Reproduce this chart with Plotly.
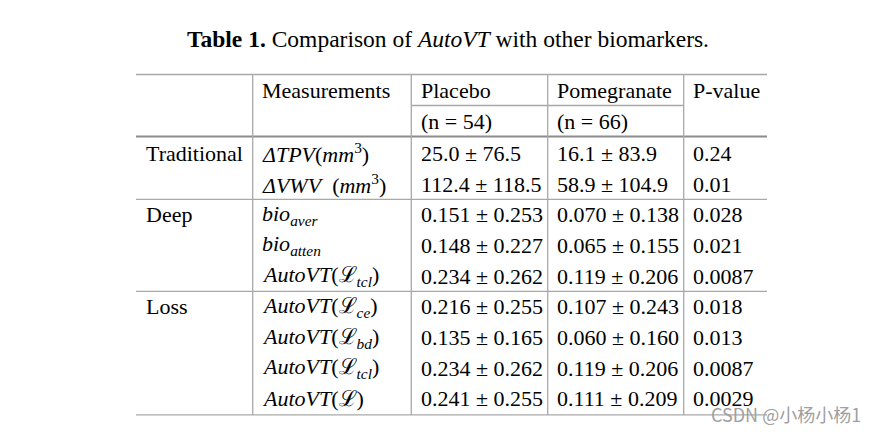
import plotly.graph_objects as go

# ---- table content ----
title_text = "<b>Table 1.</b> Comparison of <i>AutoVT</i> with other biomarkers."
header_top = ["", "Measurements", "Placebo", "Pomegranate", "P-value"]
header_sub = ["", "", "(n = 54)", "(n = 66)", ""]

groups = ["Traditional", "Deep", "Loss"]
group_sizes = [2, 3, 4]

measurements = [
    "<i>ΔTPV</i>(<i>mm</i><sup>3</sup>)",
    "<i>ΔVWV</i>  (<i>mm</i><sup>3</sup>)",
    "<i>bio</i><sub><i>aver</i></sub>",
    "<i>bio</i><sub><i>atten</i></sub>",
    "<i>AutoVT</i>(ℒ<sub><i>tcl</i></sub>)",
    "<i>AutoVT</i>(ℒ<sub><i>ce</i></sub>)",
    "<i>AutoVT</i>(ℒ<sub><i>bd</i></sub>)",
    "<i>AutoVT</i>(ℒ<sub><i>tcl</i></sub>)",
    "<i>AutoVT</i>(ℒ)",
]
placebo_mean = [25.0, 112.4, 0.151, 0.148, 0.234, 0.216, 0.135, 0.234, 0.241]
placebo_sd = [76.5, 118.5, 0.253, 0.227, 0.262, 0.255, 0.165, 0.262, 0.255]
pomegranate_mean = [16.1, 58.9, 0.070, 0.065, 0.119, 0.107, 0.060, 0.119, 0.111]
pomegranate_sd = [83.9, 104.9, 0.138, 0.155, 0.206, 0.243, 0.160, 0.206, 0.209]
decimals = [1, 1, 3, 3, 3, 3, 3, 3, 3]
p_values = ["0.24", "0.01", "0.028", "0.021", "0.0087", "0.018", "0.013", "0.0087", "0.0029"]

watermark = "CSDN @小杨小杨1"

# ---- layout constants (pixel space) ----
W, H = 881, 434
OFF = 8  # page body margin
col_edges = [136, 252.7, 411.3, 547.7, 683.7, 767]
pad = 7.5
header_y = [90, 121]
row_y0, row_pitch = 153.3, 30.7
FONT = "Liberation Serif"
FS = 22
thin = dict(color="#a8a8a8", width=1.3)
thick = dict(color="#8c8c8c", width=2.2)

n_rows = len(measurements)
row_y = [row_y0 + i * row_pitch for i in range(n_rows)]


def fmt(m, s, d):
    return f"{m:.{d}f} ± {s:.{d}f}"


cells = []
for i in range(n_rows):
    cells.append([
        "",
        measurements[i],
        fmt(placebo_mean[i], placebo_sd[i], decimals[i]),
        fmt(pomegranate_mean[i], pomegranate_sd[i], decimals[i]),
        p_values[i],
    ])
# group label goes on the first row of each group
start = 0
group_start = []
for g, n in zip(groups, group_sizes):
    cells[start][0] = g
    group_start.append(start)
    start += n

fig = go.Figure()
fig.add_trace(go.Scatter(x=[OFF, W], y=[OFF, H], mode="markers",
                         marker=dict(opacity=0), hoverinfo="skip", showlegend=False))

annotations = []


def add_text(txt, x, y, **kw):
    if not txt:
        return
    annotations.append(dict(
        text=txt, x=x, y=y, xref="x", yref="y", showarrow=False,
        xanchor=kw.get("xanchor", "left"), yanchor="middle",
        font=kw.get("font", dict(family=FONT, size=FS, color="black")),
    ))


for c in range(5):
    add_text(header_top[c], col_edges[c] + pad, header_y[0])
    add_text(header_sub[c], col_edges[c] + pad, header_y[1])
for i in range(n_rows):
    for c in range(5):
        add_text(cells[i][c], col_edges[c] + pad, row_y[i])

add_text(title_text, 448, 39, xanchor="center",
         font=dict(family=FONT, size=23.5, color="black"))

shapes = []


def hline(y, x0, x1, line):
    shapes.append(dict(type="line", xref="x", yref="y", x0=x0, x1=x1, y0=y, y1=y, line=line))


top_y = header_y[0] - 15.5
bottom_y = row_y[-1] + 16
hline(top_y, col_edges[0], col_edges[-1], thin)
hline((header_y[0] + header_y[1]) / 2, col_edges[2], col_edges[4], thin)
hline(136.5, col_edges[0], col_edges[-1], thick)
for s in group_start[1:]:
    hline((row_y[s - 1] + row_y[s]) / 2, col_edges[0], col_edges[-1], thin)
hline(bottom_y, col_edges[0], col_edges[-1], thin)
for x in col_edges[1:-1]:
    shapes.append(dict(type="line", xref="x", yref="y", x0=x, x1=x,
                       y0=top_y, y1=bottom_y, line=thin))

annotations.append(dict(
    text=watermark, x=786, y=414, xref="x", yref="y", showarrow=False,
    xanchor="center", yanchor="middle",
    font=dict(family="Noto Sans CJK SC", size=18, color="#a0a0a0"),
))

fig.update_layout(
    width=W, height=H,
    margin=dict(l=0, r=0, t=0, b=0),
    paper_bgcolor="white", plot_bgcolor="white",
    xaxis=dict(range=[OFF, W + OFF], visible=False, fixedrange=True),
    yaxis=dict(range=[H + OFF, OFF], visible=False, fixedrange=True),
    shapes=shapes, annotations=annotations,
    showlegend=False,
)

fig.write_html("out.html")
